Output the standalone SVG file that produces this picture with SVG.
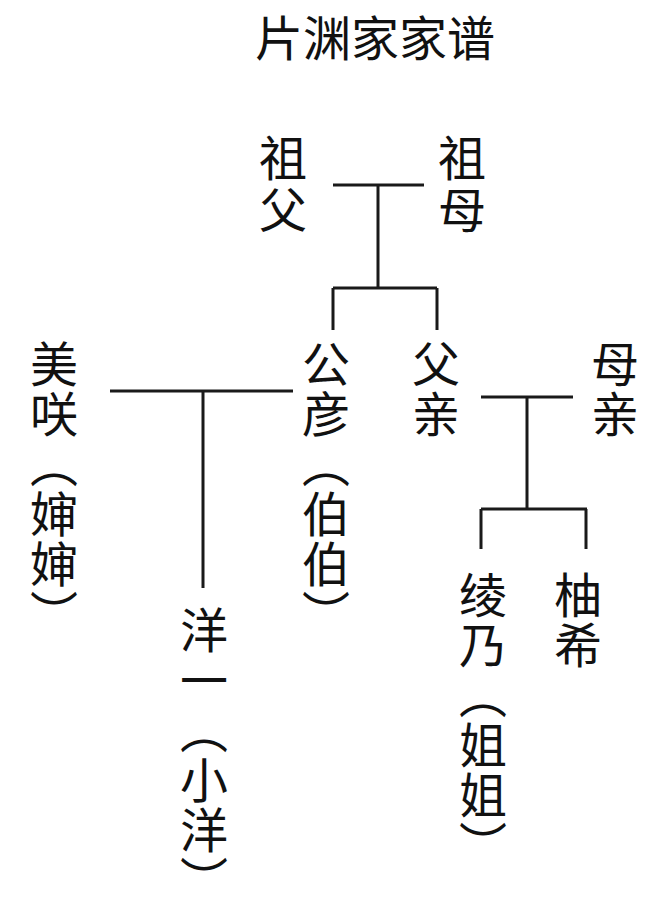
<svg xmlns="http://www.w3.org/2000/svg" width="658" height="905" viewBox="0 0 658 905">
<style>
.t{font-family:"Noto Sans CJK SC","Noto Sans CJK JP",sans-serif;font-size:48px;fill:#111;}
.v{writing-mode:vertical-rl;letter-spacing:2px;}
.w{letter-spacing:4px;}
.c{fill:none;stroke:#1a1a1a;stroke-width:3;}
</style>
<rect width="658" height="905" fill="#fff"/>
<text id="title" class="t" x="375" y="56" text-anchor="middle">片渊家家谱</text>
<g id="connectors" class="c">
<path d="M333 185H424M378 185V288M333 288H437M333 288V330M437 288V330"/>
<path d="M110 391H293M203 391V588"/>
<path d="M481 397H573M527 397V509M481 509H587M481 509V549M586 509V549"/>
</g>
<g id="grandfather"><text class="t v w" x="283" y="134">祖父</text></g>
<g id="grandmother"><text class="t v w" x="462" y="134">祖母</text></g>
<g id="misaki"><text class="t v" x="54" y="340">美咲（婶婶）</text></g>
<g id="kimihiko"><text class="t v" x="326" y="340">公彦（伯伯）</text></g>
<g id="father"><text class="t v" x="436" y="340">父亲</text></g>
<g id="mother"><text class="t v" x="615" y="340">母亲</text></g>
<g id="yoichi"><text class="t v" x="204" y="606">洋一（小洋）</text></g>
<g id="ayano"><text class="t v" x="483" y="571">绫乃（姐姐）</text></g>
<g id="yuzuki"><text class="t v" x="578" y="571">柚希</text></g>
</svg>
